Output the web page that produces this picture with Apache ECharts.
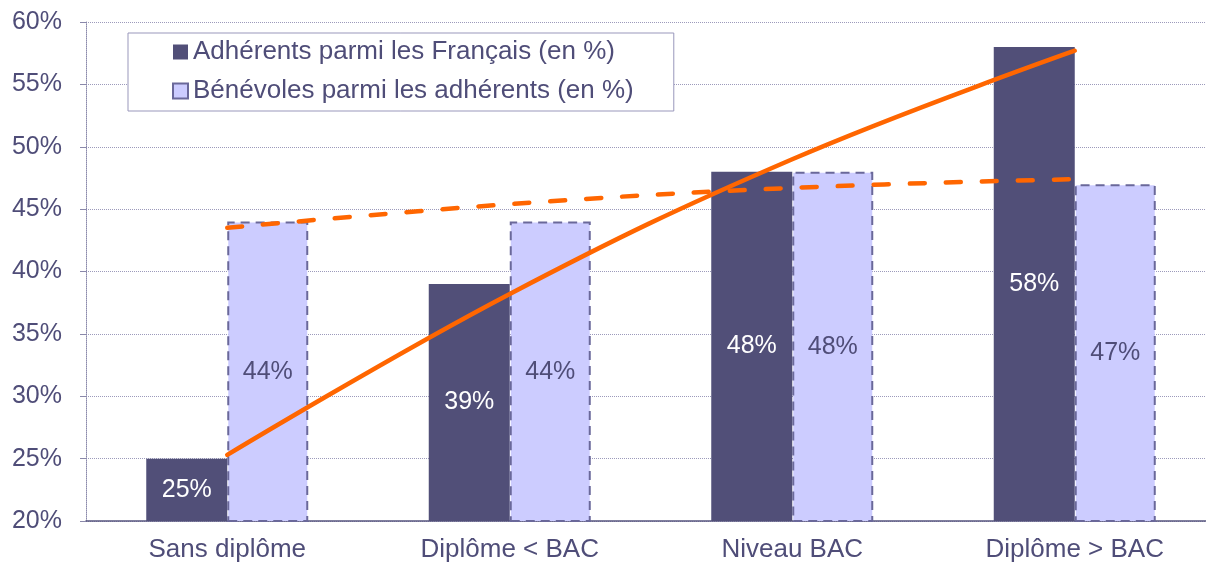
<!DOCTYPE html>
<html>
<head>
<meta charset="utf-8">
<script src="https://cdn.jsdelivr.net/npm/echarts@6/dist/echarts.min.js"></script>
<style>
  html, body { margin: 0; padding: 0; background: #fff; }
  #chart { width: 1206px; height: 562px; }
</style>
</head>
<body>
<div id="chart"></div>
<script>
const categories = ['Sans diplôme', 'Diplôme < BAC', 'Niveau BAC', 'Diplôme > BAC'];
const adherents = [25, 39, 48, 58];
const benevoles = [44, 44, 48, 47];
// courbes de tendance (valeurs au centre de chaque catégorie)
const trendAdherents = [25.3, 38.2, 49.0, 57.7];
const trendBenevoles = [43.5, 45.4, 46.7, 47.4];
const yTicks = { min: 20, max: 60, interval: 5 };

const textColor = '#4f4d78';
const font = "'Liberation Sans', Arial, sans-serif";

const chart = echarts.init(document.getElementById('chart'));
chart.setOption({
    animation: false,
    textStyle: { fontFamily: font },
    grid: { left: 86, top: 22, bottom: 41, width: 1130, containLabel: false, outerBoundsMode: 'none' },
    legend: {
        data: [
            { name: 'Adhérents parmi les Français (en %)', icon: 'rect' },
            { name: 'Bénévoles parmi les adhérents (en %)', icon: 'rect' }
        ],
        orient: 'vertical',
        left: 128,
        top: 33,
        padding: [6, 40, 7, 44],
        itemGap: 13,
        itemWidth: 15,
        itemHeight: 15,
        borderColor: '#9997bb',
        borderWidth: 1,
        backgroundColor: '#fff',
        textStyle: { color: textColor, fontSize: 26, fontFamily: font }
    },
    xAxis: {
        type: 'category',
        data: categories,
        axisLine: { lineStyle: { color: '#57557f', width: 1.5 } },
        axisTick: { lineStyle: { color: '#aaaacc' }, length: 6 },
        axisLabel: { color: textColor, fontSize: 26, fontFamily: font, margin: 16 }
    },
    yAxis: {
        type: 'value',
        min: yTicks.min,
        max: yTicks.max,
        interval: yTicks.interval,
        axisLine: { show: true, lineStyle: { color: '#8a88aa', type: 'dotted' } },
        axisTick: { show: true, length: 6, lineStyle: { color: '#8a88aa' } },
        splitLine: { lineStyle: { color: '#9c9abb', type: 'dotted' } },
        axisLabel: { color: textColor, fontSize: 25, fontFamily: font, margin: 24, formatter: v => v + '%' }
    },
    series: [
        {
            name: 'Adhérents parmi les Français (en %)',
            type: 'bar',
            data: adherents,
            barWidth: 81,
            barGap: '0%',
            itemStyle: { color: '#514f78' },
            label: { show: true, position: 'inside', color: '#fff', fontSize: 25, fontFamily: font, formatter: p => p.value + '%' },
            z: 2
        },
        {
            name: 'Bénévoles parmi les adhérents (en %)',
            type: 'bar',
            data: benevoles,
            barWidth: 81,
            itemStyle: { color: '#ccccff', borderColor: '#6a689a', borderWidth: 2, borderType: [9, 6] },
            label: { show: true, position: 'inside', color: textColor, fontSize: 25, fontFamily: font, formatter: p => p.value + '%' },
            z: 2
        },
        {
            name: 'trend1',
            type: 'line',
            data: trendAdherents,
            symbol: 'none',
            smooth: 0.4,
            lineStyle: { color: '#ff6600', width: 4.5, cap: 'round' },
            z: 5
        },
        {
            name: 'trend2',
            type: 'line',
            data: trendBenevoles,
            symbol: 'none',
            smooth: 0.4,
            lineStyle: { color: '#ff6600', width: 4.5, type: [15, 21], cap: 'round' },
            z: 5
        }
    ]
});
</script>
</body>
</html>
